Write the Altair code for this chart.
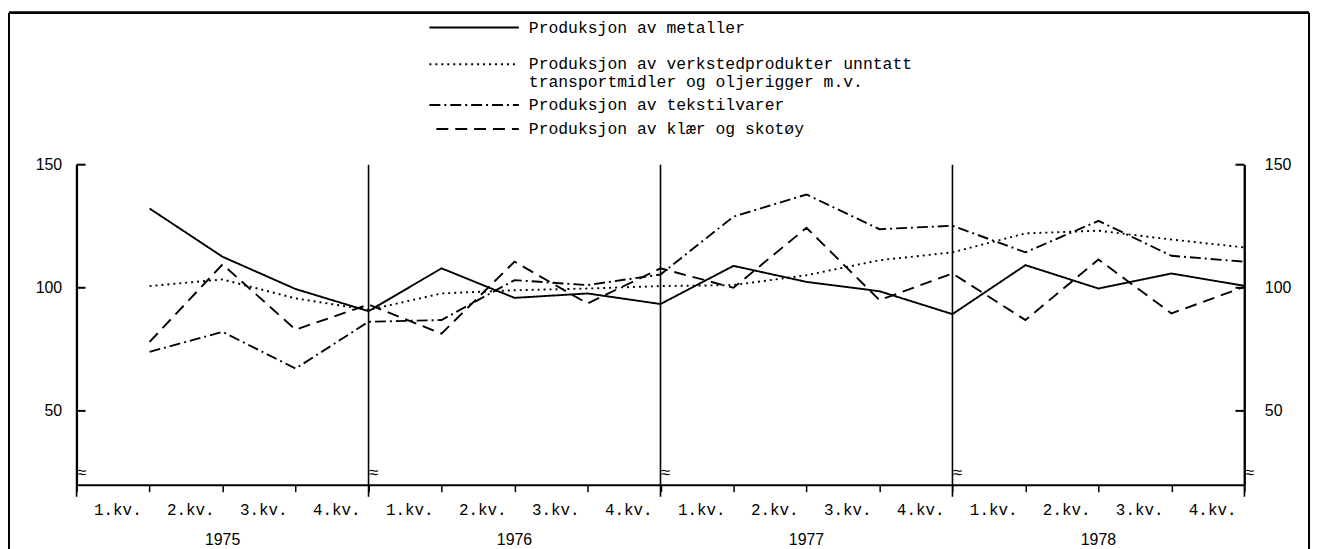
import altair as alt
import pandas as pd

# ---------------- data ----------------
quarter_index = list(range(1, 17))          # 1975 Q1 .. 1978 Q4 (plotted at quarter end)
metaller = [132.2, 112.6, 99.5, 90.5, 107.9, 95.9, 97.7, 93.4,
            108.9, 102.4, 98.6, 89.3, 109.2, 99.7, 105.8, 100.8]
verksted = [100.7, 103.4, 95.7, 91.0, 97.7, 99.0, 99.7, 100.7,
            101.1, 105.1, 111.2, 114.4, 122.1, 123.2, 119.6, 116.4]
tekstil = [74.0, 82.1, 67.2, 86.2, 86.9, 103.1, 101.1, 105.4,
           128.9, 137.9, 123.8, 125.2, 114.4, 127.2, 113.0, 110.6]
klaer = [78.0, 109.5, 83.0, 93.2, 81.4, 110.6, 93.6, 107.9,
         100.0, 124.4, 95.0, 105.8, 86.9, 111.5, 89.6, 100.4]

series_labels = [
    "Produksjon av metaller",
    "Produksjon av verkstedprodukter unntatt\ntransportmidler og oljerigger m.v.",
    "Produksjon av tekstilvarer",
    "Produksjon av klær og skotøy",
]
quarter_labels = ["1.kv.", "2.kv.", "3.kv.", "4.kv."]
years = ["1975", "1976", "1977", "1978"]
year_centers = [2, 6, 10, 14]
year_bounds = [0, 4, 8, 12, 16]
y_ticks = [50, 100, 150]

# ---------------- layout / style ----------------
W, H = 1175, 322
PAD = {"left": 69, "top": 156, "right": 69, "bottom": 63}
dashes = [[1, 0], [2, 4], [11, 4, 2, 4], [12, 7]]
MONO = "Liberation Mono"
SANS = "Liberation Sans"

rows = []
for name, vals in zip(series_labels, [metaller, verksted, tekstil, klaer]):
    for k, v in zip(quarter_index, vals):
        rows.append({"k": k, "value": v, "series": name})
df = pd.DataFrame(rows)

xscale = alt.Scale(domain=[0, 16], nice=False, zero=False)
yscale = alt.Scale(domain=[20, 150], nice=False, zero=False)

ql = "[" + ",".join("'%s'" % q for q in quarter_labels) + "]"
x_axis = alt.Axis(
    values=list(range(17)), title=None, grid=False,
    labelExpr="datum.value < 16 ? %s[datum.value %% 4] : ''" % ql,
    labelOffset=41, tickSize=7, tickWidth=1.5, tickColor="black",
    domainColor="black", domainWidth=2, labelFont=MONO, labelFontSize=16,
    labelColor="black", labelPadding=10, labelOverlap=False, labelFlush=False,
)
y_axis_left = alt.Axis(
    values=y_ticks, title=None, grid=False, tickSize=0, labelPadding=15,
    domainColor="black", domainWidth=2, labelFont=SANS, labelFontSize=16,
    labelColor="black",
)
y_axis_right = alt.Axis(
    orient="right", values=y_ticks, title=None, grid=False, tickSize=0,
    labelPadding=20, domainColor="black", domainWidth=2, labelFont=SANS,
    labelFontSize=16, labelColor="black",
)

lines = alt.Chart(df).mark_line(color="black", strokeWidth=1.9).encode(
    x=alt.X("k:Q", scale=xscale, axis=x_axis),
    y=alt.Y("value:Q", scale=yscale, axis=y_axis_left),
    strokeDash=alt.StrokeDash("series:N", scale=alt.Scale(domain=series_labels, range=dashes), legend=None),
    order="k:Q",
)

ticks_df = pd.DataFrame({"v": y_ticks})
ticks_left = alt.Chart(ticks_df).mark_rule(color="black", strokeWidth=2).encode(
    y=alt.Y("v:Q", scale=yscale, axis=None), x=alt.value(0), x2=alt.value(9))
ticks_right = alt.Chart(ticks_df).mark_rule(color="black", strokeWidth=2).encode(
    y=alt.Y("v:Q", scale=yscale, axis=y_axis_right), x=alt.value(W - 9), x2=alt.value(W))

bounds_df = pd.DataFrame({"b": year_bounds})
dividers = alt.Chart(bounds_df).mark_rule(color="black", strokeWidth=1.6).encode(
    x=alt.X("b:Q", scale=xscale, axis=None), y=alt.value(0), y2=alt.value(H + 12))
breaks = alt.Chart(bounds_df).mark_text(text="≈", fontSize=17, dx=5, color="black").encode(
    x=alt.X("b:Q", scale=xscale, axis=None), y=alt.value(H - 12))

years_df = pd.DataFrame({"c": year_centers, "year": years})
year_text = alt.Chart(years_df).mark_text(font=SANS, fontSize=16, color="black").encode(
    x=alt.X("c:Q", scale=xscale, axis=None), y=alt.value(H + 56), text="year:N")

# legend (drawn by hand, like the original)
one = alt.Data(values=[{}])
leg_y = [-138, -101, -60, -36]
leg_x0 = [355, 355, 355, 362]
legend_layers = []
for lab, ly, x0, d in zip(series_labels, leg_y, leg_x0, dashes):
    legend_layers.append(
        alt.Chart(one).mark_rule(color="black", strokeWidth=2, strokeDash=d).encode(
            x=alt.value(x0), x2=alt.value(445), y=alt.value(ly)))
    legend_layers.append(
        alt.Chart(one).mark_text(text=lab, lineBreak="\n", lineHeight=18, align="left",
                                 baseline="middle", font=MONO, fontSize=16.5, color="black").encode(
            x=alt.value(455), y=alt.value(ly)))

# frame
frame = [
    alt.Chart(one).mark_rule(color="black", strokeWidth=3).encode(
        x=alt.value(-68), x2=alt.value(1240), y=alt.value(-153)),
    alt.Chart(one).mark_rule(color="black", strokeWidth=2).encode(
        x=alt.value(-68), y=alt.value(-153), y2=alt.value(H + 80)),
    alt.Chart(one).mark_rule(color="black", strokeWidth=2).encode(
        x=alt.value(1240), y=alt.value(-153), y2=alt.value(H + 80)),
]

chart = alt.layer(
    lines, ticks_left, ticks_right, dividers, breaks, year_text, *legend_layers, *frame
).resolve_axis(x="independent", y="independent").properties(
    width=W, height=H, padding=PAD, autosize=alt.AutoSizeParams(type="none"),
    background="white",
).configure_view(stroke=None)

chart.save("out.html", embed_options={"renderer": "svg", "actions": False})
